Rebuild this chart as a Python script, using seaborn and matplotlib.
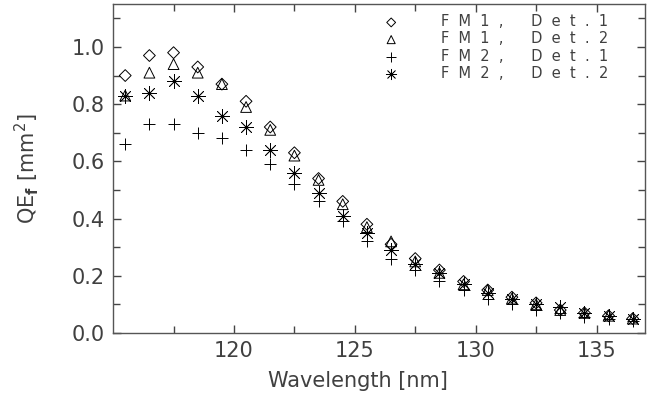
import numpy as np
import pandas as pd
import matplotlib
matplotlib.use('Agg')
import matplotlib.pyplot as plt
import seaborn as sns

wavelength = [115.5, 116.5, 117.5, 118.5, 119.5, 120.5, 121.5, 122.5, 123.5, 124.5, 125.5,
              126.5, 127.5, 128.5, 129.5, 130.5, 131.5, 132.5, 133.5, 134.5, 135.5, 136.5]
fm1_det1 = [0.90, 0.97, 0.98, 0.93, 0.87, 0.81, 0.72, 0.63, 0.54, 0.46, 0.38,
            0.31, 0.26, 0.22, 0.18, 0.15, 0.125, 0.105, 0.08, 0.07, 0.06, 0.05]
fm1_det2 = [0.83, 0.91, 0.94, 0.91, 0.87, 0.79, 0.71, 0.62, 0.535, 0.45, 0.37,
            0.32, 0.25, 0.21, 0.17, 0.15, 0.12, 0.10, 0.08, 0.07, 0.06, 0.05]
fm2_det1 = [0.66, 0.73, 0.73, 0.70, 0.68, 0.64, 0.59, 0.52, 0.46, 0.39, 0.32,
            0.26, 0.22, 0.18, 0.15, 0.12, 0.10, 0.08, 0.07, 0.055, 0.05, 0.04]
fm2_det2 = [0.83, 0.84, 0.88, 0.83, 0.76, 0.72, 0.64, 0.56, 0.49, 0.41, 0.35,
            0.29, 0.24, 0.21, 0.17, 0.14, 0.12, 0.10, 0.09, 0.07, 0.06, 0.05]
labels = ['F  M  1  ,      D  e  t  .  1', 'F  M  1  ,      D  e  t  .  2',
          'F  M  2  ,      D  e  t  .  1', 'F  M  2  ,      D  e  t  .  2']
xticks = [120, 125, 130, 135]
yticks = [0.0, 0.2, 0.4, 0.6, 0.8, 1.0]

sns.set_style('ticks')
plt.rcParams['font.family'] = ['DejaVu Sans']
txt = '#404040'

fig = plt.figure(figsize=(6.54, 4.05), dpi=100)
ax = fig.add_axes([0.173, 0.178, 0.813, 0.812])

series = [fm1_det1, fm1_det2, fm2_det1, fm2_det2]
styles = [dict(marker='D', s=36, facecolor='none', edgecolor='black', linewidth=0.7),
          dict(marker='^', s=60, facecolor='none', edgecolor='black', linewidth=0.7),
          dict(marker='+', s=85, color='black', linewidth=0.7),
          dict(marker=(8, 2, 0), s=100, color='black', linewidth=0.55)]
for vals, lab, st in zip(series, labels, styles):
    df = pd.DataFrame({'wl': wavelength, 'qe': vals})
    sns.scatterplot(data=df, x='wl', y='qe', ax=ax, label=lab, **st)

ax.set_xlim(115, 137)
ax.set_ylim(0, 1.15)
ax.set_xticks(xticks)
ax.set_xticklabels([str(v) for v in xticks])
ax.set_xticks([117.5, 122.5, 127.5, 132.5], minor=True)
ax.set_yticks(yticks)
ax.set_yticklabels([f'{v:.1f}' for v in yticks])
ax.set_yticks([0.1, 0.3, 0.5, 0.7, 0.9, 1.1], minor=True)
ax.tick_params(which='major', direction='in', top=True, right=True, length=6,
               width=1.0, color='#444444', labelsize=15, labelcolor=txt, pad=6)
ax.tick_params(which='minor', direction='in', top=True, right=True, length=5,
               width=1.0, color='#444444')
for sp in ax.spines.values():
    sp.set_visible(True)
    sp.set_color('#555555')
    sp.set_linewidth(1.0)

ax.set_xlabel('Wavelength [nm]', fontsize=15, color=txt)
ax.xaxis.set_label_coords(0.46, -0.115)
ax.set_ylabel(r'QE$_\mathbf{f}$ [mm$^2$]', fontsize=15, color=txt)
ax.yaxis.set_label_coords(-0.135, 0.5)

leg = ax.legend(loc='upper left', bbox_to_anchor=(0.49, 1.0), frameon=False,
                fontsize=10.5, handletextpad=2.9, labelspacing=0.15,
                handlelength=1.0, borderaxespad=0.3, markerscale=0.75)
for t in leg.get_texts():
    t.set_color(txt)

plt.savefig('out.png', dpi=100)
